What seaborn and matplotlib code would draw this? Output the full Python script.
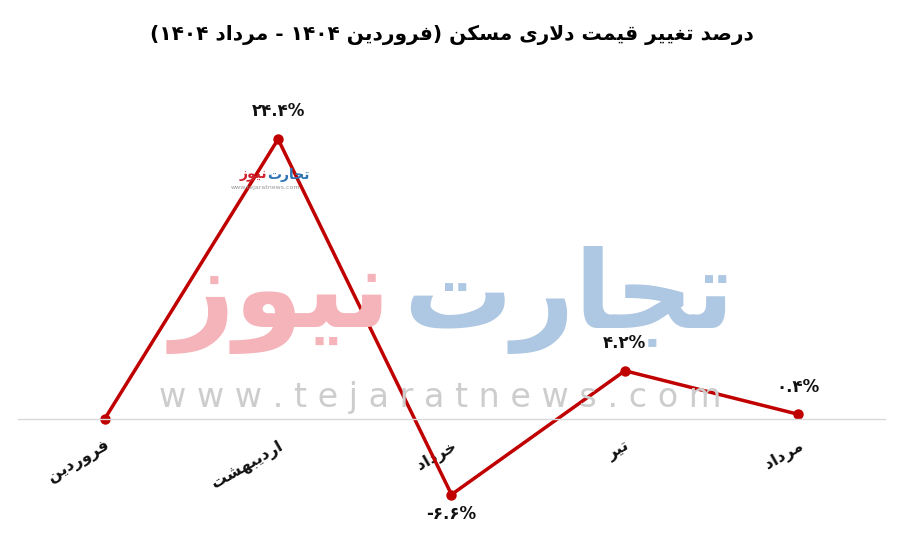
import re
import pandas as pd
import matplotlib
matplotlib.use("Agg")
import matplotlib.pyplot as plt
import seaborn as sns

# Data
months = ["فروردین", "اردیبهشت", "خرداد", "تیر", "مرداد"]
changes = [0.0, 24.4, -6.6, 4.2, 0.4]
title = "درصد تغییر قیمت دلاری مسکن (فروردین ۱۴۰۴ - مرداد ۱۴۰۴)"
brand_a = "تجارت"
brand_b = "نیوز"
site = "www.tejaratnews.com"

# ---------- Persian shaping (no arabic_reshaper available) ----------
FORMS = {
    "ا": ("\uFE8D", "\uFE8E", None, None),
    "ب": ("\uFE8F", "\uFE90", "\uFE91", "\uFE92"),
    "ت": ("\uFE95", "\uFE96", "\uFE97", "\uFE98"),
    "ج": ("\uFE9D", "\uFE9E", "\uFE9F", "\uFEA0"),
    "خ": ("\uFEA5", "\uFEA6", "\uFEA7", "\uFEA8"),
    "د": ("\uFEA9", "\uFEAA", None, None),
    "ر": ("\uFEAD", "\uFEAE", None, None),
    "ز": ("\uFEAF", "\uFEB0", None, None),
    "س": ("\uFEB1", "\uFEB2", "\uFEB3", "\uFEB4"),
    "ش": ("\uFEB5", "\uFEB6", "\uFEB7", "\uFEB8"),
    "ص": ("\uFEB9", "\uFEBA", "\uFEBB", "\uFEBC"),
    "غ": ("\uFECD", "\uFECE", "\uFECF", "\uFED0"),
    "ف": ("\uFED1", "\uFED2", "\uFED3", "\uFED4"),
    "ق": ("\uFED5", "\uFED6", "\uFED7", "\uFED8"),
    "ل": ("\uFEDD", "\uFEDE", "\uFEDF", "\uFEE0"),
    "م": ("\uFEE1", "\uFEE2", "\uFEE3", "\uFEE4"),
    "ن": ("\uFEE5", "\uFEE6", "\uFEE7", "\uFEE8"),
    "ه": ("\uFEE9", "\uFEEA", "\uFEEB", "\uFEEC"),
    "و": ("\uFEED", "\uFEEE", None, None),
    "ک": ("\uFB8E", "\uFB8F", "\uFB90", "\uFB91"),
    "ی": ("\uFBFC", "\uFBFD", "\uFBFE", "\uFBFF"),
}
MIRROR = {"(": ")", ")": "("}


def shape(s):
    out = []
    i = 0
    while i < len(s):
        c = s[i]
        if c not in FORMS:
            out.append(c)
            i += 1
            continue
        prev = s[i - 1] if i > 0 else ""
        joins_prev = prev in FORMS and FORMS[prev][2] is not None
        if c == "ل" and i + 1 < len(s) and s[i + 1] == "ا":
            out.append("\uFEFC" if joins_prev else "\uFEFB")
            i += 2
            continue
        nxt = s[i + 1] if i + 1 < len(s) else ""
        joins_next = FORMS[c][2] is not None and nxt in FORMS
        iso, fin, ini, med = FORMS[c]
        if joins_prev and joins_next:
            out.append(med)
        elif joins_prev:
            out.append(fin)
        elif joins_next:
            out.append(ini)
        else:
            out.append(iso)
        i += 1
    return "".join(out)


def rtl(s):
    s = shape(s)
    runs = re.findall(r"[0-9\u06F0-\u06F9]+|[^0-9\u06F0-\u06F9]+", s)
    vis = []
    for r in reversed(runs):
        if r[0].isdigit():
            vis.append(r)
        else:
            vis.append("".join(MIRROR.get(c, c) for c in reversed(r)))
    return "".join(vis)


fa_digits = str.maketrans("0123456789", "۰۱۲۳۴۵۶۷۸۹")

df = pd.DataFrame({"month": [rtl(m) for m in months], "change": changes})

sns.set_theme(style="white")
plt.rcParams["font.family"] = ["DejaVu Sans"]

fig = plt.figure(figsize=(9.03, 5.51), dpi=100)
ax = fig.add_axes([18 / 903, 6 / 551, 867 / 903, 470 / 551])

# watermark
fig.text(0.311, 0.455, rtl(brand_b), fontsize=80, fontweight="bold",
         color="#f4b4ba", ha="center", va="center", zorder=0)
fig.text(0.630, 0.455, rtl(brand_a), fontsize=78, fontweight="bold",
         color="#aec7e2", ha="center", va="center", zorder=0)
fig.text(0.488, 0.278, " ".join(site), fontsize=24, color="#cdcdcd",
         ha="center", va="center", zorder=0)
fig.text(0.296, 0.682, rtl(brand_a), fontsize=10, fontweight="bold",
         color="#2f74b5", ha="left", va="center")
fig.text(0.296, 0.682, rtl(brand_b), fontsize=10, fontweight="bold",
         color="#d0202a", ha="right", va="center")
fig.text(0.294, 0.66, site, fontsize=4.5, color="#999999",
         ha="center", va="center")
ax.patch.set_alpha(0)

sns.lineplot(data=df, x="month", y="change", ax=ax, sort=False,
             color="#c00000", linewidth=2.5, marker="o", markersize=7.5,
             markeredgewidth=0)

for i, v in enumerate(changes):
    if v == 0:
        continue
    txt = f"{v:.1f}%".translate(fa_digits)
    off = 20 if v > 0 else -14
    ax.annotate(txt, (i, v), xytext=(0, off), textcoords="offset points",
                ha="center", va="center", fontsize=12, fontweight="bold",
                color="#111111")

ax.set_xlim(-0.5, 4.5)
ax.set_ylim(-11, 30)
ax.set_xlabel("")
ax.set_ylabel("")
ax.set_yticks([])
for s in ["top", "left", "right"]:
    ax.spines[s].set_visible(False)
ax.spines["bottom"].set_position(("data", 0))
ax.spines["bottom"].set_color("#d9d9d9")
ax.spines["bottom"].set_linewidth(1)
ax.tick_params(axis="x", length=0, pad=14)
for lab in ax.get_xticklabels():
    lab.set_rotation(30)
    lab.set_ha("right")
    lab.set_va("top")
    lab.set_rotation_mode("anchor")
    lab.set_fontsize(11.5)
    lab.set_fontweight("bold")
    lab.set_color("#111111")

fig.text(0.5, 1 - 35 / 551, rtl(title), fontsize=14.5, fontweight="bold",
         ha="center", va="center", color="#000000")

fig.savefig("out.png", dpi=100)
